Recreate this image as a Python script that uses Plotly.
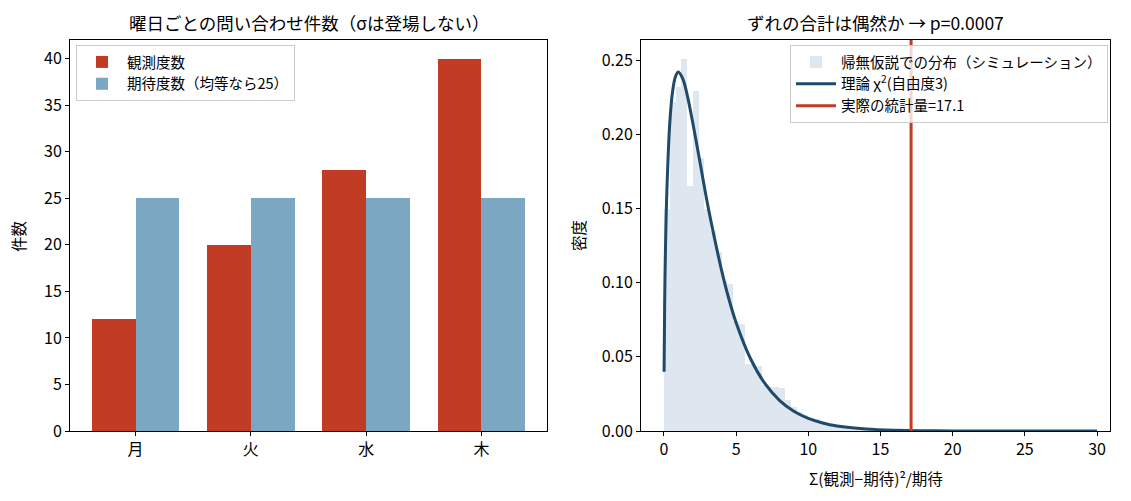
import plotly.graph_objects as go

# left panel: weekday counts
days = ["月", "火", "水", "木"]
observed = [12, 20, 28, 40]
expected = [25, 25, 25, 25]

# right panel: simulated statistic histogram (density, bins of 0.4 from 0)
hist_density = [0.150, 0.222, 0.232, 0.251, 0.165, 0.229, 0.184, 0.150, 0.135, 0.121,
                0.101, 0.099, 0.074, 0.072, 0.045, 0.045, 0.044, 0.031, 0.030, 0.030,
                0.029, 0.021, 0.016, 0.013, 0.011, 0.009, 0.008, 0.006, 0.005, 0.004,
                0.0035, 0.003, 0.0025, 0.002, 0.0015, 0.0013, 0.001, 0.0008, 0.0006, 0.0005,
                0.0004, 0.0003, 0.0002, 0.0002, 0.0001]
bin_width = 0.4

# theoretical chi-square curve
curve_x = [0.01, 0.05, 0.1, 0.2, 0.4, 0.6, 0.8, 1.0, 1.3, 1.6, 2.0, 2.5, 3.0, 3.5,
           4.0, 4.5, 5.0, 6.0, 7.0, 8.0, 9.0, 10.0, 11.0, 12.0, 14.0, 16.0, 18.0,
           20.0, 25.0, 30.0]
curve_y = [0.040, 0.087, 0.120, 0.161, 0.207, 0.229, 0.239, 0.242, 0.2375, 0.227,
           0.2076, 0.181, 0.154, 0.130, 0.108, 0.089, 0.073, 0.0487, 0.0319, 0.0207,
           0.0133, 0.0085, 0.0054, 0.0034, 0.0014, 0.00053, 0.00021, 0.00008, 0.000005, 0.0]

stat_value = 17.12
p_value = "0.0007"

RED = "#c23b25"
BLUE = "#7ba7c3"
NAVY = "#1f4a6a"
PALE = "#dee7ef"
FONT = "Noto Sans CJK JP"

# page has an 8px body margin, so the figure is a bit smaller than the window
PAD = 8
W, H = 1131 - 2 * PAD, 501 - 2 * PAD


def px(p):
    return (p - PAD) / W


def py(p):
    return 1 - (p - PAD) / H


fig = go.Figure()

fig.add_bar(x=list(range(len(days))), y=observed, width=0.38, offset=-0.38,
            marker=dict(color=RED, line=dict(width=0)), name="観測度数",
            xaxis="x", yaxis="y", legend="legend")
fig.add_bar(x=list(range(len(days))), y=expected, width=0.38, offset=0,
            marker=dict(color=BLUE, line=dict(width=0)), name="期待度数（均等なら25）",
            xaxis="x", yaxis="y", legend="legend")

fig.add_bar(x=[i * bin_width for i in range(len(hist_density))], y=hist_density,
            width=bin_width, offset=0, marker=dict(color=PALE, line=dict(width=0)),
            name="帰無仮説での分布（シミュレーション）", xaxis="x2", yaxis="y2", legend="legend2")
fig.add_scatter(x=curve_x, y=curve_y, mode="lines", line=dict(color=NAVY, width=3, shape="spline"),
                name="理論 χ<sup>2</sup>(自由度3)", xaxis="x2", yaxis="y2", legend="legend2")
fig.add_scatter(x=[stat_value, stat_value], y=[0, 1], mode="lines", line=dict(color=RED, width=3),
                name="実際の統計量=%.1f" % stat_value, xaxis="x2", yaxis="y2", legend="legend2")

axis_common = dict(showline=True, mirror=True, linecolor="black", linewidth=1,
                   ticks="outside", ticklen=4, tickcolor="black", showgrid=False,
                   zeroline=False, automargin=False, tickfont=dict(size=16, color="black"))

ydom = [py(431), py(40)]
legend_common = dict(yanchor="top", bgcolor="rgba(255,255,255,0.8)", bordercolor="#cccccc",
                     borderwidth=1, font=dict(size=14.5), tracegroupgap=0, itemwidth=40)
fig.update_layout(
    width=W, height=H, margin=dict(l=0, r=0, t=0, b=0, autoexpand=False),
    paper_bgcolor="white", plot_bgcolor="white",
    font=dict(family=FONT, color="black"),
    barmode="overlay", bargap=0,
    xaxis=dict(domain=[px(70), px(547)], range=[-0.568, 3.568],
               tickvals=list(range(len(days))), ticktext=days, anchor="y", **axis_common),
    yaxis=dict(domain=ydom, range=[0, 42], dtick=5, anchor="x", **axis_common),
    xaxis2=dict(domain=[px(641), px(1110)], range=[-1.59, 30.9], dtick=5,
                anchor="y2", **axis_common),
    yaxis2=dict(domain=ydom, range=[0, 0.2636], dtick=0.05, tickformat=".2f",
                anchor="x2", **axis_common),
    legend=dict(x=px(76), y=py(45), xanchor="left", **legend_common),
    legend2=dict(x=px(1108), y=py(45), xanchor="right", **legend_common),
    annotations=[
        dict(text="曜日ごとの問い合わせ件数（σは登場しない）", x=px(308.5), y=py(22),
             xanchor="center", yanchor="middle", font=dict(size=17.5)),
        dict(text="ずれの合計は偶然か → p=" + p_value, x=px(875.5), y=py(22),
             xanchor="center", yanchor="middle", font=dict(size=17.5)),
        dict(text="件数", x=px(18), y=py(236), textangle=-90,
             xanchor="center", yanchor="middle", font=dict(size=15.5)),
        dict(text="密度", x=px(578), y=py(236), textangle=-90,
             xanchor="center", yanchor="middle", font=dict(size=15.5)),
        dict(text="Σ(観測−期待)²/期待", x=px(875.5), y=py(478),
             xanchor="center", yanchor="middle", font=dict(size=15.5)),
    ],
)
fig.update_annotations(xref="paper", yref="paper", showarrow=False)

fig.write_html("out.html")
